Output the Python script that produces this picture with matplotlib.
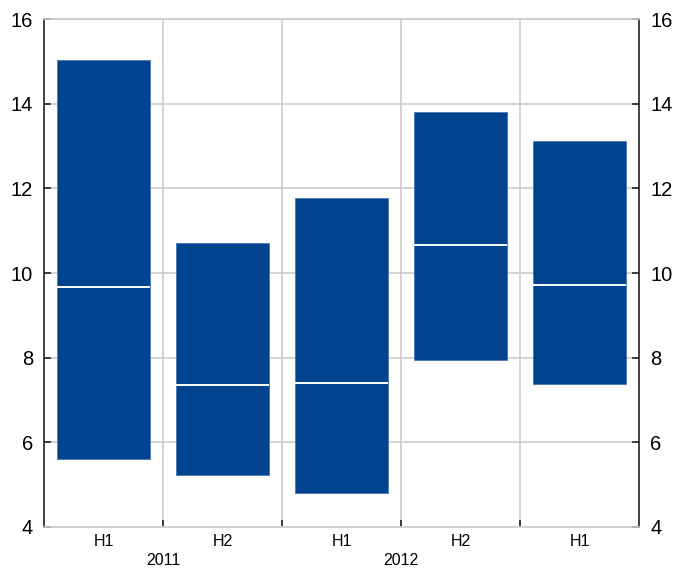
import matplotlib
matplotlib.use("Agg")
import matplotlib.pyplot as plt
import numpy as np

plt.rcParams['font.family'] = ['Liberation Sans', 'DejaVu Sans']

periods = ["H1", "H2", "H1", "H2", "H1"]
years = ["2011", "2012"]
lows = [5.61, 5.23, 4.80, 7.95, 7.38]
highs = [15.03, 10.71, 11.77, 13.80, 13.12]
medians = [9.67, 7.35, 7.40, 10.66, 9.72]

bar_color = "#00438F"
grid_color = "#cccccc"

fig = plt.figure(figsize=(6.76, 5.72), dpi=100)
ax = fig.add_axes([44 / 676, 1 - 527 / 572, 595 / 676, 508 / 572])

x = np.arange(len(periods))
width = 0.78
lows_a = np.array(lows)
highs_a = np.array(highs)
ax.bar(x, highs_a - lows_a, bottom=lows_a, width=width, color=bar_color,
       edgecolor="#4a78b5", linewidth=0.6, zorder=3)
ax.hlines(medians, x - width / 2, x + width / 2, colors="white",
          linewidth=1.4, zorder=4)

ax.set_xlim(-0.5, len(periods) - 0.5)
ax.set_ylim(4, 16)
ax.set_yticks(np.arange(4, 17, 2))
ax.yaxis.grid(True, color=grid_color, linewidth=1.2, zorder=0)

# vertical separators between half-years
for b in np.arange(0.5, len(periods) - 0.5, 1):
    ax.axvline(b, color=grid_color, linewidth=1.2, zorder=0)

ax.set_xticks(x)
ax.set_xticklabels(periods, fontsize=11.5)
ax.tick_params(axis="x", length=0, pad=5)
ax.set_xticks(np.arange(0.5, len(periods) - 0.5, 1), minor=True)
ax.tick_params(axis="x", which="minor", direction="in", length=5,
               color="#222222", width=1.2)

ax.tick_params(axis="y", direction="in", length=5, labelsize=14.5,
               right=True, labelright=True, color="#222222", width=1.2, pad=8)

for side in ["left", "right"]:
    ax.spines[side].set_color("#222222")
    ax.spines[side].set_linewidth(1.2)
for side in ["top", "bottom"]:
    ax.spines[side].set_color(grid_color)
    ax.spines[side].set_linewidth(1.2)

# year labels centred under each H1/H2 pair
for i, yr in enumerate(years):
    ax.text(2 * i + 0.5, -0.052, yr, transform=ax.get_xaxis_transform(),
            ha="center", va="top", fontsize=11.5)

fig.savefig("out.png", dpi=100)
